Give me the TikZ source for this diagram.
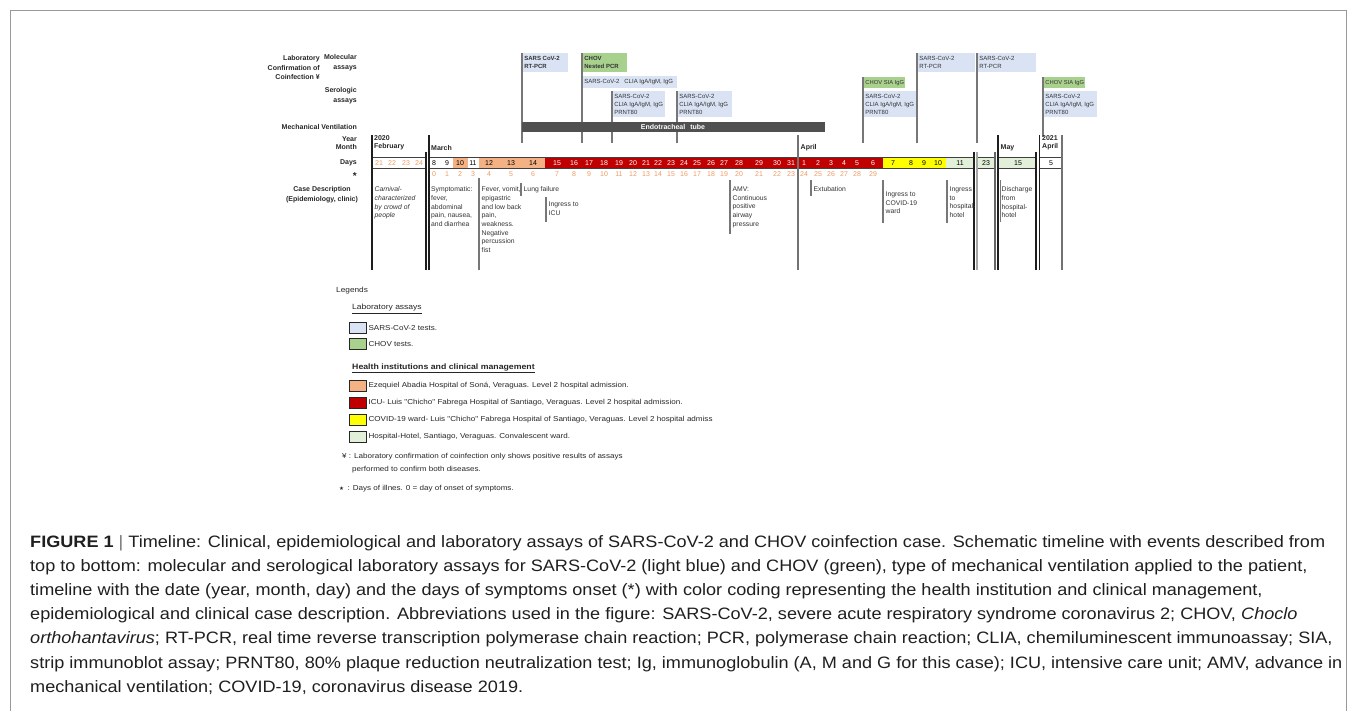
\documentclass[tikz,border=0pt]{standalone}
\usepackage{fontspec}
\setmainfont{Liberation Sans}
\newfontfamily\symfont{DejaVu Sans}
\newfontfamily\capfont[FakeStretch=1.097]{Liberation Sans}
\newfontfamily\legfont[FakeStretch=1.12]{Liberation Sans}
\definecolor{lblue}{HTML}{DAE3F3}
\definecolor{lgreen}{HTML}{A9D18E}
\definecolor{salmon}{HTML}{F4B183}
\definecolor{icured}{HTML}{C00000}
\definecolor{cyellow}{HTML}{FFFF00}
\definecolor{hotel}{HTML}{E2F0D9}
\definecolor{tubegray}{HTML}{505050}
\definecolor{otxt}{HTML}{EE9A62}
\definecolor{evgray}{HTML}{777777}
\definecolor{mondark}{HTML}{1E1E1E}
\definecolor{txtgray}{HTML}{333333}
\begin{document}
\begin{tikzpicture}[x=1pt,y=-1pt,
  lbl/.style={font=\fontsize{7}{9.5}\selectfont\bfseries, align=right, anchor=east, inner sep=0pt, text=black!85},
  abox/.style={anchor=north west, inner sep=0pt, draw=none},
  atxt/.style={anchor=west, inner xsep=1.5pt, inner ysep=0pt, align=left, font=\fontsize{6}{8}\selectfont, text=black!80},
  evl/.style={draw=evgray, line width=1.4pt},
  monl/.style={draw=mondark, line width=1.1pt},
  bandl/.style={draw=black!75, line width=0.7pt},
  mon/.style={anchor=west, inner sep=0pt, align=left, font=\fontsize{7}{8.5}\selectfont\bfseries, text=black!85},
  dnum/.style={inner sep=0pt, font=\fontsize{7}{8}\selectfont},
  snum/.style={inner sep=0pt, font=\fontsize{7}{8}\selectfont, text=otxt},
  ctxt/.style={anchor=north west, inner sep=0pt, align=left, font=\fontsize{6.8}{8.7}\selectfont, text=txtgray},
  sw/.style={anchor=north west, inner sep=0pt, minimum width=17, minimum height=10.5, draw=black!85, line width=0.9pt},
  legt/.style={anchor=west, inner sep=0pt, font=\legfont\fontsize{7.2}{9}\selectfont, text=black!85},
  captxt/.style={anchor=base west, inner sep=0pt, font=\capfont\fontsize{16.5}{20}\selectfont, text=black!88}
]
\useasboundingbox (0,0) rectangle (1357,710);
\draw[black!40, line width=0.9pt] (10.5,10.5) rectangle (1346.5,715);

% ---------- left labels ----------
\node[lbl] (labconf) at (320,67.5) {Laboratory\\Confirmation of\\Coinfection ¥};
\node[lbl] (molec) at (357,62.5) {Molecular\\assays};
\node[lbl] (serol) at (357,95.5) {Serologic\\assays};
\node[lbl] (mechv) at (357,126.5) {Mechanical Ventilation};
\node[lbl, font=\fontsize{7}{8.5}\selectfont\bfseries] (yrmo) at (357,143) {Year\\Month};
\node[lbl] (daysl) at (357,163) {Days};
\node[lbl, font=\fontsize{10}{10}\selectfont\bfseries] (starl) at (357,176.5) {*};
\node[lbl, align=center, anchor=center] (casel) at (322,194.5) {Case Description\\(Epidemiology, clinic)};

% ---------- laboratory assays ----------
\node[abox, fill=lblue, minimum width=45, minimum height=19] (rt1) at (522.7,53) {};
\node[atxt, font=\fontsize{6}{8}\selectfont\bfseries] (rt1t) at (rt1.west) {SARS CoV-2\\RT-PCR};
\draw[evl] ([xshift=-0.7pt]rt1.north west) -- ++(0,90);

\node[abox, fill=lgreen, minimum width=44, minimum height=19] (ch1) at (582.7,53) {};
\node[atxt, font=\fontsize{6}{8}\selectfont\bfseries] (ch1t) at (ch1.west) {CHOV\\Nested PCR};
\draw[evl] ([xshift=-0.7pt]ch1.north west) -- ++(0,90);

\node[abox, fill=lblue, minimum width=94.5, minimum height=12] (cl1) at (582.7,76) {};
\node[atxt] (cl1t) at (cl1.west) {SARS-CoV-2\hspace{5pt}CLIA IgA/IgM, IgG};

\node[abox, fill=lblue, minimum width=52, minimum height=26] (s1) at (612.7,91) {};
\node[atxt] (s1t) at (s1.west) {SARS-CoV-2\\CLIA IgA/IgM, IgG\\PRNT80};
\draw[evl] ([xshift=-0.7pt]s1.north west) -- ++(0,52);

\node[abox, fill=lblue, minimum width=54, minimum height=26] (s2) at (677.7,91) {};
\node[atxt] (s2t) at (s2.west) {SARS-CoV-2\\CLIA IgA/IgM, IgG\\PRNT80};
\draw[evl] ([xshift=-0.7pt]s2.north west) -- ++(0,52);

\node[abox, fill=tubegray, minimum width=303, minimum height=10] (tube) at (522,122) {};
\node[inner sep=0pt, text=white, font=\fontsize{7}{8}\selectfont\bfseries] (tubet) at (673,127) {Endotracheal\hspace{3pt} tube};

\node[abox, fill=lgreen, minimum width=41, minimum height=11] (sia1) at (863.7,77) {};
\node[atxt, font=\fontsize{5.8}{8}\selectfont] (sia1t) at (sia1.west) {CHOV SIA IgG};
\draw[evl] ([xshift=-0.7pt]sia1.north west) -- ++(0,66);
\node[abox, fill=lblue, minimum width=53.5, minimum height=26] (s3) at (863.7,91) {};
\node[atxt] (s3t) at (s3.west) {SARS-CoV-2\\CLIA IgA/IgM, IgG\\PRNT80};

\node[abox, fill=lblue, minimum width=57.5, minimum height=19] (rt2) at (917.7,53) {};
\node[atxt] (rt2t) at (rt2.west) {SARS-CoV-2\\RT-PCR};
\draw[evl] ([xshift=-0.7pt]rt2.north west) -- ++(0,90);

\node[abox, fill=lblue, minimum width=58.5, minimum height=19] (rt3) at (977.7,53) {};
\node[atxt] (rt3t) at (rt3.west) {SARS-CoV-2\\RT-PCR};
\draw[evl] ([xshift=-0.7pt]rt3.north west) -- ++(0,90);

\node[abox, fill=lgreen, minimum width=41, minimum height=11] (sia2) at (1043.7,77) {};
\node[atxt, font=\fontsize{5.8}{8}\selectfont] (sia2t) at (sia2.west) {CHOV SIA IgG};
\draw[evl] ([xshift=-0.7pt]sia2.north west) -- ++(0,60);
\node[abox, fill=lblue, minimum width=53.5, minimum height=26] (s4) at (1043.7,91) {};
\node[atxt] (s4t) at (s4.west) {SARS-CoV-2\\CLIA IgA/IgM, IgG\\PRNT80};

% ---------- months ----------
\node[mon] (feb) at (374,143) {2020\\February};
\node[mon] (mar) at (431,147.5) {March};
\node[mon] (apr) at (800.5,147.5) {April};
\node[mon] (may) at (1000.5,147.5) {May};
\node[mon] (apr21) at (1042,143) {2021\\April};

% ---------- day band ----------
\fill[salmon] (453,157) rectangle (467.5,168);
\fill[salmon] (479,157) rectangle (545,168);
\fill[icured] (545,157) rectangle (883,168);
\fill[cyellow] (883,157) rectangle (946,168);
\fill[hotel] (946,157) rectangle (974,168);
\fill[hotel] (977,157) rectangle (995,168);
\fill[hotel] (998,157) rectangle (1036,168);
\draw[bandl] (372,157) rectangle (426,168);
\draw[bandl] (429,157) rectangle (974,168);
\draw[bandl] (977,157) rectangle (995,168);
\draw[bandl] (998,157) rectangle (1036,168);
\draw[bandl] (1039.5,157) rectangle (1062,168);

\foreach \x/\t/\c in {379/21/otxt,392/22/otxt,406/23/otxt,419/24/otxt,434/8/black,447/9/black,460/10/black,473/11/black,489/12/black,511/13/black,533/14/black,557/15/white,574/16/white,589/17/white,604/18/white,619/19/white,633/20/white,646/21/white,658/22/white,671/23/white,684/24/white,697/25/white,711/26/white,724/27/white,739/28/white,759/29/white,777/30/white,791/31/white,804/1/white,818/2/white,831/3/white,844/4/white,857/5/white,873/6/white,893/7/black,911/8/black,924/9/black,938/10/black,960/11/black,986/23/black,1018/15/black,1051/5/black}
  \node[dnum, text=\c] (d\x) at (\x,162.8) {\t};

\foreach \x [count=\i from 0] in {434,447,460,473,489,511,533,557,574,589,604,619,633,646,658,671,684,697,711,724,739,759,777,791,804,818,831,844,857,873}
  \node[snum] (s\x) at (\x,173.8) {\i};

% ---------- vertical divider lines ----------
\draw[monl] (372,135) -- (372,270);
\draw[monl] (426,152) -- (426,270);
\draw[monl] (429,135) -- (429,270);
\draw[monl, draw=black!55] (798,135) -- (798,270);
\draw[monl] (974,152) -- (974,270);
\draw[monl, draw=black!35] (977,152) -- (977,270);
\draw[monl, draw=black!60] (995,152) -- (995,270);
\draw[monl] (998,135) -- (998,270);
\draw[monl] (1036,152) -- (1036,270);
\draw[monl] (1039.5,135) -- (1039.5,270);
\draw[monl, draw=black!55] (1062,135) -- (1062,270);

% ---------- case description ----------
\node[ctxt, font=\fontsize{6.8}{8.7}\selectfont\itshape] (carn) at (374.5,186.5) {Carnival-\\characterized\\by crowd of\\people};
\node[ctxt] (symp) at (431,186.5) {Symptomatic:\\fever,\\abdominal\\pain, nausea,\\and diarrhea};
\draw[evl] (479,178) -- (479,270);
\node[ctxt] (fever) at (481.5,186.5) {Fever, vomit,\\epigastric\\and low back\\pain,\\weakness.\\Negative\\percussion\\fist};
\draw[evl] (521,183) -- (521,196);
\node[ctxt] (lung) at (523.5,186.5) {Lung failure};
\draw[evl] (546,197) -- (546,222);
\node[ctxt] (icu) at (548.5,201.5) {Ingress to\\ICU};
\draw[evl] (730,180) -- (730,234);
\node[ctxt] (amv) at (732.5,186.5) {AMV:\\Continuous\\positive\\airway\\pressure};
\draw[evl] (811,180) -- (811,196);
\node[ctxt] (extu) at (813.5,186.5) {Extubation};
\draw[evl] (883,180) -- (883,223);
\node[ctxt] (covw) at (885.5,191.5) {Ingress to\\COVID-19\\ward};
\draw[evl] (947,180) -- (947,223);
\node[ctxt] (hoti) at (949.5,186.5) {Ingress\\to\\hospital-\\hotel};
\draw[evl, line width=1pt] (1000,180) -- (1000,222);
\node[ctxt] (disc) at (1001.5,186.5) {Discharge\\from\\hospital-\\hotel};

% ---------- legends ----------
\node[legt, font=\legfont\fontsize{7.4}{9}\selectfont] (leg) at (336,291) {Legends};
\node[legt, font=\legfont\fontsize{7.6}{9}\selectfont] (labas) at (352,309) {\underline{Laboratory assays}};
\node[sw, fill=lblue] (sw1) at (349,322) {};
\node[legt] (sw1t) at ([xshift=1.5pt]sw1.east) {SARS-CoV-2 tests.};
\node[sw, fill=lgreen] (sw2) at (349,338) {};
\node[legt] (sw2t) at ([xshift=1.5pt]sw2.east) {CHOV tests.};
\node[legt, font=\legfont\fontsize{7.8}{9}\selectfont\bfseries] (health) at (352,368) {\underline{Health institutions and clinical management}};
\node[sw, fill=salmon] (sw3) at (349,380) {};
\node[legt] (sw3t) at ([xshift=1.5pt]sw3.east) {Ezequiel Abadia Hospital of Soná, Veraguas. Level 2 hospital admission.};
\node[sw, fill=icured] (sw4) at (349,397) {};
\node[legt] (sw4t) at ([xshift=1.5pt]sw4.east) {ICU- Luis "Chicho" Fabrega Hospital of Santiago, Veraguas. Level 2 hospital admission.};
\node[sw, fill=cyellow] (sw5) at (349,414) {};
\node[legt] (sw5t) at ([xshift=1.5pt]sw5.east) {COVID-19 ward- Luis "Chicho" Fabrega Hospital of Santiago, Veraguas. Level 2 hospital admiss};
\node[sw, fill=hotel] (sw6) at (349,431) {};
\node[legt] (sw6t) at ([xshift=1.5pt]sw6.east) {Hospital-Hotel, Santiago, Veraguas. Convalescent ward.};
\node[legt] (yen) at (342,457) {¥ : Laboratory confirmation of coinfection only shows positive results of assays};
\node[legt] (yen2) at (352,470) {performed to confirm both diseases.};
\node[legt] (starn) at (339,488.5) {{\symfont\fontsize{5.5}{7}\selectfont ★}\, : Days of illnes. 0 = day of onset of symptoms.};

% ---------- caption ----------
\node[captxt] (cap1) at (30,547) {\textbf{FIGURE 1} {\color{black!55}|} Timeline: Clinical, epidemiological and laboratory assays of SARS-CoV-2 and CHOV coinfection case. Schematic timeline with events described from};
\node[captxt] (cap2) at (30,571.2) {top to bottom: molecular and serological laboratory assays for SARS-CoV-2 (light blue) and CHOV (green), type of mechanical ventilation applied to the patient,};
\node[captxt] (cap3) at (30,595.4) {timeline with the date (year, month, day) and the days of symptoms onset (*) with color coding representing the health institution and clinical management,};
\node[captxt] (cap4) at (30,619.6) {epidemiological and clinical case description. Abbreviations used in the figure: SARS-CoV-2, severe acute respiratory syndrome coronavirus 2; CHOV, \textit{Choclo}};
\node[captxt] (cap5) at (30,643.8) {\textit{orthohantavirus}; RT-PCR, real time reverse transcription polymerase chain reaction; PCR, polymerase chain reaction; CLIA, chemiluminescent immunoassay; SIA,};
\node[captxt] (cap6) at (30,668) {strip immunoblot assay; PRNT80, 80\% plaque reduction neutralization test; Ig, immunoglobulin (A, M and G for this case); ICU, intensive care unit; AMV, advance in};
\node[captxt] (cap7) at (30,692.2) {mechanical ventilation; COVID-19, coronavirus disease 2019.};
\end{tikzpicture}
\end{document}
